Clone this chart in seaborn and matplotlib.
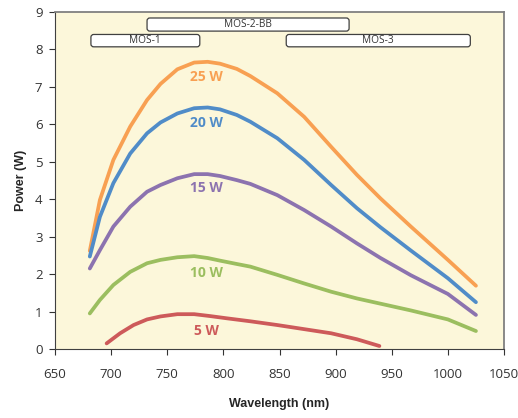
import seaborn as sns
import matplotlib.pyplot as plt
import pandas as pd
from matplotlib.patches import FancyBboxPatch

# values
wavelength = [681, 690, 702, 717, 732, 744, 759, 774, 786, 797, 812, 824,
              848, 872, 896, 919, 940, 967, 1000, 1025]
power_25w = [2.62, 3.98, 5.05, 5.94, 6.65, 7.08, 7.47, 7.65, 7.67, 7.62, 7.48, 7.29,
             6.83, 6.20, 5.40, 4.65, 4.02, 3.27, 2.38, 1.69]
power_20w = [2.47, 3.53, 4.43, 5.22, 5.76, 6.05, 6.29, 6.43, 6.45, 6.40, 6.25, 6.07,
             5.63, 5.05, 4.38, 3.76, 3.25, 2.63, 1.89, 1.25]
power_15w = [2.15, 2.64, 3.27, 3.80, 4.20, 4.38, 4.56, 4.67, 4.67, 4.62, 4.51, 4.41,
             4.11, 3.71, 3.27, 2.82, 2.43, 1.97, 1.47, 0.91]
power_10w = [0.95, 1.31, 1.71, 2.06, 2.29, 2.38, 2.45, 2.48, 2.43, 2.36, 2.27, 2.20,
             1.98, 1.75, 1.53, 1.35, 1.21, 1.03, 0.79, 0.48]
wavelength_5w = [696, 708, 720, 732, 744, 759, 774, 788, 803, 824, 848, 872,
                 896, 919, 939]
power_5w = [0.15, 0.42, 0.64, 0.79, 0.87, 0.93, 0.93, 0.88, 0.82, 0.74, 0.64, 0.53,
            0.42, 0.26, 0.08]

series_names = ['25 W', '20 W', '15 W', '10 W', '5 W']
series_colors = ['#F8A052', '#508CC8', '#8C73AF', '#9BBE5F', '#CD5A5A']
label_y = [7.27, 6.04, 4.29, 2.04, 0.48]

box_names = ['MOS-1', 'MOS-2-BB', 'MOS-3']
box_start = [682, 732, 856]
box_end = [779, 912, 1020]
box_low = [8.07, 8.49, 8.07]
box_high = [8.40, 8.84, 8.40]

x_ticks = list(range(650, 1051, 50))
y_ticks = list(range(0, 10))

# long-form table for seaborn
xs = [wavelength, wavelength, wavelength, wavelength, wavelength_5w]
ys = [power_25w, power_20w, power_15w, power_10w, power_5w]
df = pd.concat([pd.DataFrame({'Wavelength': x, 'Power': y, 'Series': name})
                for x, y, name in zip(xs, ys, series_names)], ignore_index=True)

sns.set_style('ticks')
plt.rcParams['font.family'] = ['Open Sans', 'DejaVu Sans']

fig, ax = plt.subplots(figsize=(5.18, 4.18), dpi=100)
fig.subplots_adjust(left=55 / 518, right=504 / 518, bottom=1 - 349 / 418, top=1 - 12 / 418)
ax.set_facecolor('#FCF7DA')

sns.lineplot(data=df, x='Wavelength', y='Power', hue='Series',
             palette=dict(zip(series_names, series_colors)), estimator=None,
             linewidth=2.7, legend=False, ax=ax, solid_capstyle='round',
             solid_joinstyle='round')

# curve labels
for name, color, yv in zip(series_names, series_colors, label_y):
    ax.text(785, yv, name, color=color, fontsize=10, fontweight='bold',
            ha='center', va='center')

# module range boxes
for name, x0, x1, y0, y1 in zip(box_names, box_start, box_end, box_low, box_high):
    ax.add_patch(FancyBboxPatch((x0, y0), x1 - x0, y1 - y0,
                                boxstyle='round,pad=0,rounding_size=2.5',
                                mutation_aspect=0.03, fc='white', ec='#404040', lw=0.9))
    ax.text((x0 + x1) / 2, (y0 + y1) / 2, name, fontsize=7.3, color='#333333',
            ha='center', va='center')

ax.set_xlim(650, 1050)
ax.set_ylim(0, 9)
ax.set_xticks(x_ticks)
ax.set_yticks(y_ticks)
ax.tick_params(axis='both', labelsize=9.5, colors='#333333', length=4, width=0.8, pad=5)
ax.tick_params(axis='x', pad=10)

ax.set_xlabel('Wavelength (nm)', fontsize=9, fontweight='bold', family='Liberation Sans', labelpad=12)
ax.set_ylabel('Power (W)', fontsize=9, fontweight='bold', family='Liberation Sans', labelpad=6)

for side in ['left', 'bottom']:
    ax.spines[side].set_color('#404040')
    ax.spines[side].set_linewidth(0.8)
for side in ['top', 'right']:
    ax.spines[side].set_visible(True)
    ax.spines[side].set_color('#808080')
    ax.spines[side].set_linewidth(1.3)

plt.savefig('out.png', dpi=100)
plt.close()
